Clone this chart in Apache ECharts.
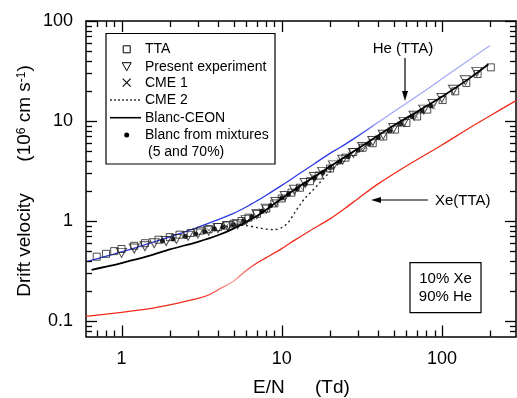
<!DOCTYPE html>
<html><head><meta charset="utf-8">
<script src="https://cdn.jsdelivr.net/npm/echarts@6/dist/echarts.min.js"></script>
<style>html,body{margin:0;padding:0;background:#fff}#c{width:517px;height:398px}</style>
</head><body><div id="c"></div>
<script>
// ---------- data (E/N in Td, drift velocity in 1e6 cm/s) ----------
const ttaE = [0.7,0.8,0.9,1.0,1.2,1.4,1.7,2.0,2.3,2.7,3.1,3.5,4.0,4.5,5.0,5.6,6.2,7.0,8.0,9.0,10,11.5,13,15,17,20,25,28,32,37,43,51,60,70,81,101,121,142,167,202];
const ttaV = [0.44,0.47,0.50,0.525,0.565,0.60,0.65,0.69,0.73,0.76,0.80,0.83,0.87,0.90,0.94,1.0,1.08,1.18,1.33,1.5,1.68,1.92,2.15,2.5,2.85,3.35,4.3,4.9,5.4,6.0,7.0,8.2,9.55,11.1,13.0,16.2,19.8,24,29.5,34.4];

const presE = [1.0,1.2,1.4,1.6,1.9,2.2,2.6,3.0,3.5,4.0,4.6,5.3,6.0,7.0,8.0,9.2,10.5,12,14,16,18,21,24,28,32,37,43,50,58,67,77,88,100,118,140,165];
const presV = [0.48,0.53,0.56,0.60,0.63,0.66,0.71,0.75,0.80,0.85,0.89,0.93,1.02,1.17,1.33,1.55,1.78,2.05,2.4,2.75,3.1,3.6,4.1,4.8,5.5,6.3,7.3,8.5,9.8,11.3,13.0,14.8,17.0,20.5,25.5,31.0];

const cme1E = [2.5,3.5,4.5,5.5,6.5,7.5,9,11,13,16,19,23,27,33,40,48,57,68,87];
const cme1V = [0.72,0.81,0.89,0.97,1.1,1.25,1.5,1.88,2.2,2.75,3.25,3.95,4.6,5.6,6.8,8.1,9.6,11.4,14.0];

const cme2E = [4.5,5.2,6,7,8,9,10,11,12,13,14,15.5,17,19,22,25];
const cme2V = [0.88,0.91,0.9,0.86,0.83,0.82,0.86,0.97,1.2,1.45,1.7,2.0,2.35,2.85,3.6,4.3];

const ceonE = [0.65,0.8,1,1.5,2,3,4,5,6,7,8,10,15,20,30,50,70,100,150,195];
const ceonV = [0.325,0.35,0.38,0.45,0.52,0.62,0.72,0.84,0.98,1.12,1.3,1.68,2.6,3.5,5.3,9.0,12.4,17.5,27,37];

const mixE = [1.8,2.1,2.5,2.9,3.3,3.8,4.3,5,5.8,6.5,7.5,8.5,10,11,12.5,14,16,18,20,23,26,30,35,40,47,55,65,75,85];
const mixV = [0.63,0.66,0.70,0.74,0.78,0.83,0.87,0.92,1.0,1.1,1.25,1.42,1.7,1.85,2.1,2.35,2.7,3.05,3.4,3.9,4.4,5.1,5.9,6.8,7.9,9.3,11.0,12.6,14.2];

const heE = [0.6,1,2,3,4,5,6,7,8,10,13,16,20,23,30,40,55,80,100,150,200];
const heV = [0.39,0.49,0.695,0.865,1.03,1.19,1.38,1.59,1.81,2.27,3.0,3.74,4.75,5.4,7.1,9.7,13.7,20.5,26.5,41.5,57];

const xeE = [0.6,1,1.5,2,2.5,3,3.5,4,5,6,7,8,10,12,15,20,25,30,40,60,100,150,200,290];
const xeV = [0.111,0.122,0.133,0.145,0.157,0.168,0.182,0.205,0.25,0.32,0.38,0.43,0.53,0.64,0.8,1.05,1.35,1.68,2.35,3.55,5.75,8.6,11.3,16];

const xMajor = [1,10,100];
const xMinor = [0.7,0.8,0.9,2,3,4,5,6,7,8,9,20,30,40,50,60,70,80,90,200];
const yMajor = [0.1,1,10,100];
const yMinor = [0.08,0.09,0.2,0.3,0.4,0.5,0.6,0.7,0.8,0.9,2,3,4,5,6,7,8,9,20,30,40,50,60,70,80,90];

const X_MIN = 0.6, X_MAX = 290, Y_MIN = 0.07, Y_MAX = 100;
// ---------------------------------------------------------------

const FONT = "'Liberation Sans', Arial, Helvetica, sans-serif";
const zip = (a, b) => a.map((v, i) => [v, b[i]]);
const chart = echarts.init(document.getElementById('c'), null, {renderer: 'canvas'});

function tickSeries(values, axis, len) {
  return {
    type: 'custom', coordinateSystem: 'cartesian2d', xAxisIndex: 0, yAxisIndex: 0,
    silent: true, clip: false, z: 10,
    data: values.map(v => axis === 'x' ? [v, 1] : [1, v]),
    renderItem: (params, api) => {
      const cs = params.coordSys;
      const st = {stroke: '#000', lineWidth: 1.3};
      if (axis === 'x') {
        const px = Math.round(api.coord([api.value(0), 1])[0]) + 0.5;
        return {type: 'group', children: [
          {type: 'line', shape: {x1: px, y1: cs.y + cs.height, x2: px, y2: cs.y + cs.height - len}, style: st},
          {type: 'line', shape: {x1: px, y1: cs.y, x2: px, y2: cs.y + len}, style: st}
        ]};
      } else {
        const py = Math.round(api.coord([1, api.value(1)])[1]) + 0.5;
        return {type: 'group', children: [
          {type: 'line', shape: {x1: cs.x, y1: py, x2: cs.x + len, y2: py}, style: st},
          {type: 'line', shape: {x1: cs.x + cs.width, y1: py, x2: cs.x + cs.width - len, y2: py}, style: st}
        ]};
      }
    }
  };
}

const axisLine = {show: true, onZero: false, lineStyle: {color: '#000', width: 1.5}};
const baseX = {type: 'log', logBase: 10, min: X_MIN, max: X_MAX, axisLine, axisTick: {show: false},
  splitLine: {show: false}, minorTick: {show: false}, minorSplitLine: {show: false}};
const baseY = {type: 'log', logBase: 10, min: Y_MIN, max: Y_MAX, axisLine, axisTick: {show: false},
  splitLine: {show: false}, minorTick: {show: false}, minorSplitLine: {show: false}};

const blueGrad = new echarts.graphic.LinearGradient(0, 0, 1, 0, [
  {offset: 0, color: '#2a3ae6'}, {offset: 0.66, color: '#2a3ae6'},
  {offset: 0.73, color: '#a0a6f4'}, {offset: 1, color: '#a8aef6'}]);
const redGrad = new echarts.graphic.LinearGradient(0, 0, 1, 0, [
  {offset: 0, color: '#f02a1a'}, {offset: 0.28, color: '#f02a1a'},
  {offset: 0.34, color: '#f7aaa2'}, {offset: 0.40, color: '#f02a1a'}, {offset: 1, color: '#f02a1a'}]);

const txt = (x, y, text, size, align) => ({type: 'text', x, y, silent: true,
  style: {text, fontSize: size, fontFamily: FONT, fill: '#000', align: align || 'left', verticalAlign: 'middle'}});
const ln = (x1, y1, x2, y2, w, dash) => ({type: 'line', silent: true, shape: {x1, y1, x2, y2},
  style: {stroke: '#000', lineWidth: w || 1.2, lineDash: dash || null}});

const legY = [49.3, 66.7, 82.7, 100, 117.7, 135, 151.7];
const symX = 126.7, txtX = 145;

const option = {
  animation: false,
  backgroundColor: '#fff',
  grid: {left: 86, top: 21, width: 430, height: 315.5, containLabel: false, outerBoundsMode: 'none'},
  xAxis: [
    Object.assign({}, baseX, {position: 'bottom',
      axisLabel: {fontSize: 18, fontFamily: FONT, color: '#000', margin: 14, showMinLabel: false, showMaxLabel: false}}),
    Object.assign({}, baseX, {position: 'top', axisLabel: {show: false}})
  ],
  yAxis: [
    Object.assign({}, baseY, {position: 'left',
      axisLabel: {fontSize: 18, fontFamily: FONT, color: '#000', margin: 13, showMinLabel: false, showMaxLabel: true}}),
    Object.assign({}, baseY, {position: 'right', axisLabel: {show: false}})
  ],
  series: [
    {name: 'He (TTA)', type: 'line', data: zip(heE, heV), showSymbol: false, smooth: 0.3,
      lineStyle: {color: blueGrad, width: 1.3}, z: 2},
    {name: 'Xe (TTA)', type: 'line', data: zip(xeE, xeV), showSymbol: false, smooth: 0.3,
      lineStyle: {color: redGrad, width: 1.3}, z: 2},
    {name: 'TTA', type: 'scatter', data: zip(ttaE, ttaV), symbol: 'rect', symbolSize: 7,
      itemStyle: {color: 'rgba(255,255,255,0)', borderColor: '#222', borderWidth: 1}, z: 3},
    {name: 'Present experiment', type: 'scatter', data: zip(presE, presV), symbol: 'triangle', symbolRotate: 180,
      symbolSize: [10, 9], itemStyle: {color: 'rgba(255,255,255,0)', borderColor: '#222', borderWidth: 1}, z: 3},
    {name: 'CME 1', type: 'scatter', data: zip(cme1E, cme1V), symbol: 'path://M0,0L10,10M10,0L0,10', symbolSize: 6,
      itemStyle: {color: 'none', borderColor: '#555', borderWidth: 1}, z: 3},
    {name: 'Blanc from mixtures', type: 'scatter', data: zip(mixE, mixV), symbol: 'circle', symbolSize: 5,
      itemStyle: {color: '#000'}, z: 4},
    {name: 'CME 2', type: 'line', data: zip(cme2E, cme2V), showSymbol: false, smooth: 0.3,
      lineStyle: {color: '#222', width: 1.4, type: [2, 3]}, z: 4},
    {name: 'Blanc-CEON', type: 'line', data: zip(ceonE, ceonV), showSymbol: false, smooth: 0.3,
      lineStyle: {color: '#000', width: 1.8}, z: 5},
    tickSeries(xMajor, 'x', 11),
    tickSeries(xMinor, 'x', 6),
    tickSeries(yMajor, 'y', 11),
    tickSeries(yMinor, 'y', 6)
  ],
  graphic: {elements: [
    {type: 'text', x: 25, y: 181, rotation: Math.PI / 2, silent: true,
      style: {text: '{a|Drift velocity      (10}{s|6}{a| cm s}{s|-1}{a|)}', align: 'center', verticalAlign: 'middle',
        rich: {a: {fontSize: 19, fontFamily: FONT, fill: '#000'},
               s: {fontSize: 12, fontFamily: FONT, fill: '#000', verticalAlign: 'top'}}}},
    txt(253, 388, 'E/N', 19),
    txt(315, 388, '(Td)', 19),
    {type: 'rect', silent: true, shape: {x: 106, y: 33.5, width: 169, height: 130.5},
      style: {fill: '#fff', stroke: '#000', lineWidth: 1.2}},
    {type: 'rect', silent: true, shape: {x: symX - 3.5, y: legY[0] - 3.5, width: 7, height: 7},
      style: {fill: 'none', stroke: '#000', lineWidth: 1}},
    {type: 'polygon', silent: true, shape: {points: [[symX - 4.5, legY[1] - 4], [symX + 4.5, legY[1] - 4], [symX, legY[1] + 4]]},
      style: {fill: 'none', stroke: '#000', lineWidth: 1}},
    ln(symX - 4, legY[2] - 4, symX + 4, legY[2] + 4, 1.1),
    ln(symX + 4, legY[2] - 4, symX - 4, legY[2] + 4, 1.1),
    ln(110, legY[3], 141, legY[3], 1.2, [2, 2]),
    ln(110, legY[4], 141, legY[4], 1.6),
    {type: 'circle', silent: true, shape: {cx: symX, cy: legY[5], r: 2.5}, style: {fill: '#000'}},
    txt(txtX, legY[0], 'TTA', 14),
    txt(txtX, legY[1], 'Present experiment', 14),
    txt(txtX, legY[2], 'CME 1', 14),
    txt(txtX, legY[3], 'CME 2', 14),
    txt(txtX, legY[4], 'Blanc-CEON', 14),
    txt(txtX, legY[5], 'Blanc from mixtures', 14),
    txt(148, legY[6], '(5 and 70%)', 14),
    txt(403, 49, 'He (TTA)', 15, 'center'),
    ln(405, 58, 405, 95, 1.2),
    {type: 'polygon', silent: true, shape: {points: [[405, 101], [402, 91], [408, 91]]}, style: {fill: '#000'}},
    txt(435, 201, 'Xe(TTA)', 15),
    ln(428, 200, 378, 200, 1.2),
    {type: 'polygon', silent: true, shape: {points: [[371, 200], [381, 197], [381, 203]]}, style: {fill: '#000'}},
    {type: 'rect', silent: true, shape: {x: 410, y: 262.7, width: 71, height: 50},
      style: {fill: '#fff', stroke: '#000', lineWidth: 1.2}},
    txt(445.5, 278.5, '10% Xe', 15, 'center'),
    txt(445.5, 297.3, '90% He', 15, 'center')
  ]}
};
chart.setOption(option);
</script>
</body></html>
